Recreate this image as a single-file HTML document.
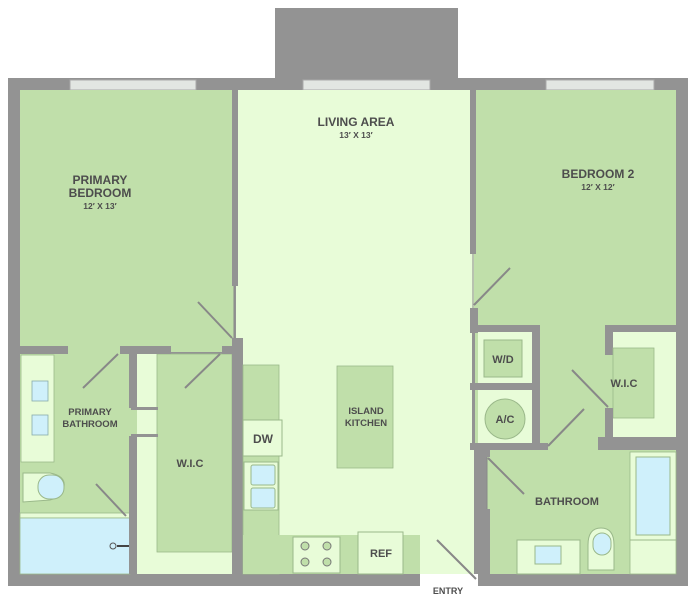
<!DOCTYPE html>
<html><head><style>
html,body{margin:0;padding:0;background:#fff;}
svg{display:block;}
text{font-family:"Liberation Sans",sans-serif;fill:#4d4d4d;font-weight:bold;}
</style></head><body>
<svg width="696" height="600" viewBox="0 0 696 600" xmlns="http://www.w3.org/2000/svg">
<rect x="275" y="8" width="183" height="72" fill="#939393"/>
<rect x="8" y="78" width="680" height="508" fill="#939393"/>
<rect x="70" y="80" width="126" height="10" fill="#e2e6e2" stroke="#aaa" stroke-width="1"/>
<rect x="303" y="80" width="127" height="10" fill="#e2e6e2" stroke="#aaa" stroke-width="1"/>
<rect x="546" y="80" width="108" height="10" fill="#e2e6e2" stroke="#aaa" stroke-width="1"/>
<rect x="236" y="90" width="238" height="484" fill="#e8fcd8"/>
<rect x="20" y="90" width="214" height="262" fill="#c0dfaa"/>
<rect x="474" y="90" width="202" height="360" fill="#c0dfaa"/>
<rect x="20" y="352" width="112" height="222" fill="#c0dfaa"/>
<rect x="130" y="408" width="28" height="28" fill="#c0dfaa"/>
<rect x="21" y="355" width="33" height="107" fill="#e8fcd8" stroke="#9ab88a" stroke-width="0.8"/>
<rect x="32" y="381" width="16" height="20" fill="#cff0fb" stroke="#8aa" stroke-width="0.8"/>
<rect x="32" y="415" width="16" height="20" fill="#cff0fb" stroke="#8aa" stroke-width="0.8"/>
<path d="M23 473 L50 473 Q66 476 64 487 Q62 497 50 500 L23 502 Z" fill="#e8fcd8" stroke="#9ab88a"/>
<rect x="38" y="475" width="26" height="24" rx="11" fill="#cff0fb" stroke="#9ab88a"/>
<rect x="20" y="513" width="110" height="5" fill="#e8fcd8" stroke="#9ab88a" stroke-width="0.8"/>
<rect x="20" y="518" width="110" height="56" fill="#cff0fb" stroke="#9ab88a" stroke-width="0.8"/>
<circle cx="113" cy="546" r="3" fill="none" stroke="#555"/>
<rect x="117" y="545" width="12" height="2" fill="#444"/>
<line x1="96" y1="484" x2="126" y2="516" stroke="#888" stroke-width="2"/>
<rect x="137" y="354" width="96" height="220" fill="#e8fcd8"/>
<rect x="157" y="354" width="75" height="198" fill="#c0dfaa" stroke="#9ab88a" stroke-width="0.8"/>
<rect x="20" y="346" width="48" height="8" fill="#939393"/>
<rect x="120" y="346" width="51" height="8" fill="#939393"/>
<rect x="129" y="346" width="8" height="62" fill="#939393"/>
<rect x="129" y="436" width="8" height="138" fill="#939393"/>
<rect x="131" y="407" width="27" height="3" fill="#939393"/>
<rect x="131" y="434" width="27" height="3" fill="#939393"/>
<rect x="232" y="90" width="6" height="196" fill="#939393"/>
<rect x="232" y="338" width="11" height="236" fill="#939393"/>
<rect x="222" y="346" width="12" height="8" fill="#939393"/>
<line x1="234" y1="286" x2="234" y2="338" stroke="#888" stroke-width="1"/>
<line x1="198" y1="302" x2="232" y2="338" stroke="#888" stroke-width="2"/>
<line x1="83" y1="388" x2="118" y2="354" stroke="#888" stroke-width="2"/>
<line x1="185" y1="388" x2="220" y2="354" stroke="#888" stroke-width="2"/>
<rect x="243" y="365" width="36" height="209" fill="#c0dfaa" stroke="#9ab88a" stroke-width="0.8"/>
<rect x="243" y="535" width="177" height="39" fill="#c0dfaa"/>
<rect x="243" y="420" width="39" height="36" fill="#e8fcd8" stroke="#9ab88a"/>
<rect x="244" y="462" width="34" height="48" fill="#e8fcd8" stroke="#9ab88a"/>
<rect x="251" y="465" width="24" height="20" rx="2" fill="#cff0fb" stroke="#9ab88a"/>
<rect x="251" y="488" width="24" height="20" rx="2" fill="#cff0fb" stroke="#9ab88a"/>
<rect x="293" y="537" width="47" height="36" fill="#e8fcd8" stroke="#9ab88a"/>
<circle cx="305" cy="546" r="4" fill="#c0dfaa" stroke="#777"/><circle cx="327" cy="546" r="4" fill="#c0dfaa" stroke="#777"/>
<circle cx="305" cy="562" r="4" fill="#c0dfaa" stroke="#777"/><circle cx="327" cy="562" r="4" fill="#c0dfaa" stroke="#777"/>
<rect x="358" y="532" width="45" height="42" fill="#e8fcd8" stroke="#9ab88a"/>
<rect x="337" y="366" width="56" height="102" fill="#c0dfaa" stroke="#9ab88a" stroke-width="0.8"/>
<rect x="470" y="90" width="6" height="164" fill="#939393"/>
<line x1="473" y1="254" x2="473" y2="310" stroke="#888"/>
<line x1="474" y1="305" x2="510" y2="268" stroke="#888" stroke-width="2"/>
<rect x="470" y="308" width="8" height="25" fill="#939393"/>
<rect x="470" y="325" width="70" height="7" fill="#939393"/>
<rect x="472" y="332" width="3" height="115" fill="#939393"/>
<rect x="478" y="332" width="54" height="51" fill="#e8fcd8"/>
<rect x="484" y="340" width="38" height="37" fill="#c0dfaa" stroke="#9ab88a"/>
<rect x="470" y="383" width="70" height="7" fill="#939393"/>
<rect x="478" y="390" width="54" height="53" fill="#e8fcd8"/>
<circle cx="505" cy="419" r="20" fill="#c0dfaa" stroke="#9ab88a"/>
<rect x="532" y="325" width="8" height="125" fill="#939393"/>
<rect x="470" y="443" width="78" height="7" fill="#939393"/>
<line x1="548" y1="446" x2="584" y2="409" stroke="#888" stroke-width="2"/>
<rect x="605" y="325" width="71" height="7" fill="#939393"/>
<rect x="605" y="325" width="8" height="30" fill="#939393"/>
<rect x="613" y="332" width="63" height="108" fill="#e8fcd8"/>
<rect x="613" y="348" width="41" height="70" fill="#c0dfaa" stroke="#9ab88a" stroke-width="0.8"/>
<rect x="605" y="408" width="8" height="35" fill="#939393"/>
<rect x="598" y="437" width="78" height="13" fill="#939393"/>
<line x1="572" y1="370" x2="608" y2="407" stroke="#888" stroke-width="2"/>
<rect x="487" y="450" width="189" height="124" fill="#c0dfaa"/>
<rect x="483" y="445" width="7" height="12" fill="#939393"/>
<line x1="487" y1="457" x2="487" y2="510" stroke="#888"/>
<line x1="488" y1="458" x2="524" y2="494" stroke="#888" stroke-width="2"/>
<rect x="483" y="509" width="7" height="70" fill="#939393"/>
<rect x="630" y="452" width="46" height="122" fill="#e8fcd8" stroke="#9ab88a" stroke-width="0.8"/>
<rect x="636" y="457" width="34" height="78" fill="#cff0fb" stroke="#9ab88a"/>
<line x1="630" y1="540" x2="676" y2="540" stroke="#9ab88a"/>
<rect x="517" y="540" width="63" height="34" fill="#e8fcd8" stroke="#9ab88a"/>
<rect x="535" y="546" width="26" height="18" fill="#cff0fb" stroke="#9ab88a"/>
<path d="M588 570 L588 545 Q588 528 601 528 Q614 528 614 545 L614 570 Z" fill="#e8fcd8" stroke="#9ab88a"/>
<rect x="593" y="533" width="18" height="22" rx="9" fill="#cff0fb" stroke="#9ab88a"/>
<rect x="420" y="574" width="58" height="12" fill="#fff"/>
<line x1="437" y1="540" x2="476" y2="579" stroke="#888" stroke-width="2"/>
<text x="448" y="594" font-size="9" text-anchor="middle">ENTRY</text>
<text x="356" y="126" font-size="12" text-anchor="middle">LIVING AREA</text>
<text x="356" y="138" font-size="8.5" text-anchor="middle" font-weight="normal">13′ X 13′</text>
<text x="100" y="184" font-size="12" text-anchor="middle">PRIMARY</text>
<text x="100" y="197" font-size="12" text-anchor="middle">BEDROOM</text>
<text x="100" y="209" font-size="8.5" text-anchor="middle" font-weight="normal">12′ X 13′</text>
<text x="598" y="178" font-size="12" text-anchor="middle">BEDROOM 2</text>
<text x="598" y="190" font-size="8.5" text-anchor="middle" font-weight="normal">12′ X 12′</text>
<text x="90" y="415" font-size="9.5" text-anchor="middle">PRIMARY</text>
<text x="90" y="427" font-size="9.5" text-anchor="middle">BATHROOM</text>
<text x="190" y="467" font-size="11" text-anchor="middle">W.I.C</text>
<text x="263" y="443" font-size="12" text-anchor="middle">DW</text>
<text x="366" y="414" font-size="9.5" text-anchor="middle">ISLAND</text>
<text x="366" y="426" font-size="9.5" text-anchor="middle">KITCHEN</text>
<text x="381" y="557" font-size="11" text-anchor="middle">REF</text>
<text x="503" y="363" font-size="11" text-anchor="middle">W/D</text>
<text x="505" y="423" font-size="11" text-anchor="middle">A/C</text>
<text x="624" y="387" font-size="11" text-anchor="middle">W.I.C</text>
<text x="567" y="505" font-size="11" text-anchor="middle">BATHROOM</text>
</svg>
</body></html>
